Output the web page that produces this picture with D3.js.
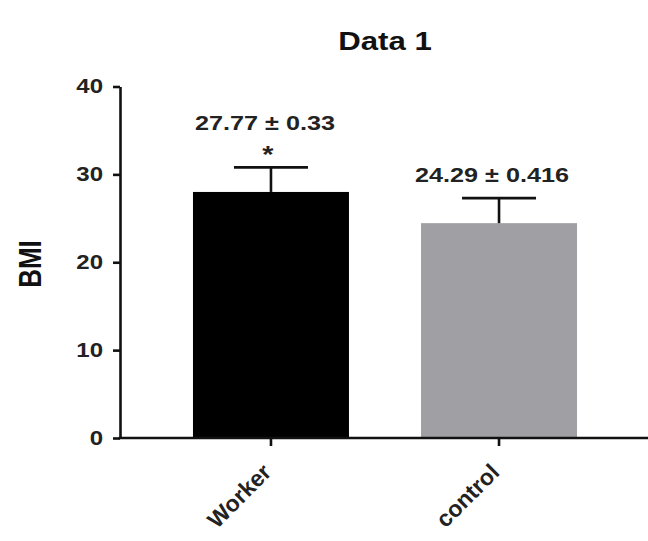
<!DOCTYPE html>
<html><head><meta charset="utf-8">
<script src="https://cdn.jsdelivr.net/npm/d3@7"></script>
<style>
body{margin:0;background:#fff;}
svg{display:block;font-family:"Liberation Sans",Arial,Helvetica,sans-serif;font-weight:bold;}
</style></head>
<body>
<svg id="c" width="648" height="541"></svg>
<script>
const categories = ["Worker", "control"];
const means = [28.0, 24.45];
const errors = [2.8, 2.85];
const valueLabels = ["27.77 ± 0.33", "24.29 ± 0.416"];
const significance = ["*", ""];
const barColors = ["#000000", "#a09fa4"];
const yTicks = [0, 10, 20, 30, 40];
const title = "Data 1";
const yTitle = "BMI";

const SX = 1.2; // horizontal text stretch seen in the reference
const FONT = "Liberation Sans, Arial, sans-serif";
const svg = d3.select("#c");
const x = d3.scaleBand().domain(categories).range([120, 650]).paddingInner(0.316).paddingOuter(0.32);
const y = d3.scaleLinear().domain([0, 40]).range([438, 86.5]);

svg.selectAll("rect.bar").data(categories).join("rect")
  .attr("class","bar")
  .attr("x", d => x(d)).attr("width", x.bandwidth())
  .attr("y", (d,i) => y(means[i])).attr("height", (d,i) => y(0) - y(means[i]))
  .attr("fill", (d,i) => barColors[i]);

// error bars
const capW = 74;
categories.forEach((c,i) => {
  const cx = x(c) + x.bandwidth()/2;
  svg.append("line").attr("x1",cx).attr("x2",cx).attr("y1",y(means[i])).attr("y2",y(means[i]+errors[i]))
    .attr("stroke","#111").attr("stroke-width",2.6);
  svg.append("line").attr("x1",cx-capW/2).attr("x2",cx+capW/2).attr("y1",y(means[i]+errors[i])).attr("y2",y(means[i]+errors[i]))
    .attr("stroke","#111").attr("stroke-width",2.6);
});

// y axis
const ya = svg.append("g").attr("transform","translate(120,0)")
  .call(d3.axisLeft(y).tickValues(yTicks).tickSize(7).tickSizeOuter(0));
ya.select(".domain").attr("stroke","#111").attr("stroke-width",2.6);
ya.selectAll(".tick line").attr("stroke","#111").attr("stroke-width",2.6);
ya.selectAll(".tick text").attr("font-size",20).attr("font-weight","bold").attr("fill","#222").attr("font-family",FONT)
  .attr("x",0).attr("transform",`translate(-17,0) scale(${SX},1)`);

// x axis
const xa = svg.append("g").attr("transform","translate(0,438)")
  .call(d3.axisBottom(x).tickSize(8).tickSizeOuter(0));
xa.select(".domain").attr("d","M118.7,0H648").attr("stroke","#111").attr("stroke-width",2.6);
xa.selectAll(".tick line").attr("stroke","#111").attr("stroke-width",2.6);
xa.selectAll(".tick text").attr("font-size",23).attr("font-weight","bold").attr("fill","#222")
  .attr("font-family",FONT)
  .attr("text-anchor","end").attr("dy","0.35em").attr("x",0).attr("y",0)
  .attr("transform","translate(-4,30) rotate(-45)");

// value labels
function stretchedText(cx, yy, size, txt) {
  svg.append("text").attr("transform",`translate(${cx},${yy}) scale(${SX},1)`).attr("text-anchor","middle")
    .attr("font-size",size).attr("fill","#222").text(txt);
}
categories.forEach((c,i) => {
  const cx = x(c) + x.bandwidth()/2;
  const top = y(means[i]+errors[i]);
  if (significance[i]) {
    stretchedText(cx-3, top-4, 24, significance[i]);
    stretchedText(cx-6, top-37, 21, valueLabels[i]);
  } else {
    stretchedText(cx-7, top-16, 21, valueLabels[i]);
  }
});

svg.append("text").attr("transform",`translate(385,50) scale(${SX},1)`).attr("text-anchor","middle")
  .attr("font-size",26).attr("fill","#111").text(title);
svg.append("text").attr("transform",`translate(41,264) scale(${SX},1) rotate(-90)`).attr("text-anchor","middle")
  .attr("font-size",26).attr("fill","#111").text(yTitle);
</script>
</body></html>
